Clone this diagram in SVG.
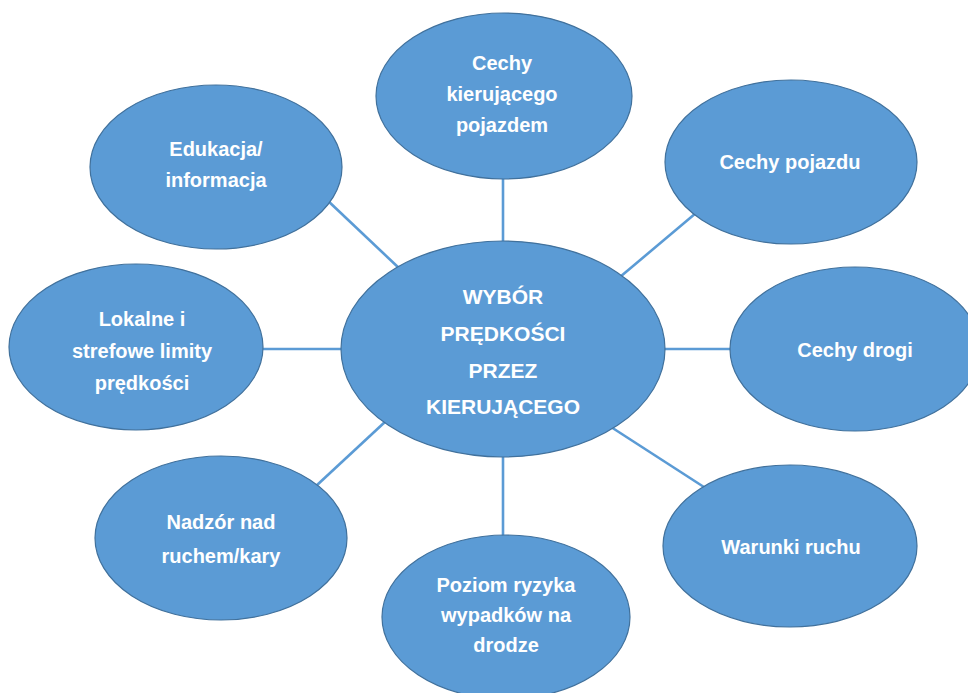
<svg xmlns="http://www.w3.org/2000/svg" width="968" height="693" viewBox="0 0 968 693">
<style>
.n{fill:#5B9BD5;stroke:#41719C;stroke-width:1.2}
.t{font-family:"Liberation Sans",Arial,sans-serif;font-weight:bold;fill:#FFFFFF;text-anchor:middle;font-size:20px}
.c{font-size:21px}
#edges line{stroke:#5B9BD5;stroke-width:2.6}
</style>
<rect width="968" height="693" fill="#FFFFFF"/>
<g id="edges">
<line x1="503" y1="176" x2="503" y2="243"/>
<line x1="620" y1="277" x2="696" y2="213"/>
<line x1="662" y1="349" x2="732" y2="349"/>
<line x1="611" y1="427" x2="707" y2="489"/>
<line x1="503" y1="454" x2="503" y2="537"/>
<line x1="316" y1="486" x2="386" y2="421"/>
<line x1="263" y1="349" x2="343" y2="349"/>
<line x1="326" y1="199" x2="400" y2="269"/>
</g>
<g id="center">
<ellipse class="n" cx="503" cy="349" rx="162" ry="108"/>
<text class="t c" x="503" y="304">WYBÓR</text>
<text class="t c" x="503" y="341">PRĘDKOŚCI</text>
<text class="t c" x="503" y="378">PRZEZ</text>
<text class="t c" x="503" y="414">KIERUJĄCEGO</text>
</g>
<g id="kierujacy">
<ellipse class="n" cx="504" cy="96" rx="128" ry="83"/>
<text class="t" x="502" y="70">Cechy</text>
<text class="t" x="502" y="101">kierującego</text>
<text class="t" x="502" y="132">pojazdem</text>
</g>
<g id="pojazd">
<ellipse class="n" cx="791" cy="162" rx="126" ry="82"/>
<text class="t" x="790" y="169">Cechy pojazdu</text>
</g>
<g id="droga">
<ellipse class="n" cx="855" cy="349" rx="125" ry="82"/>
<text class="t" x="855" y="357">Cechy drogi</text>
</g>
<g id="warunki">
<ellipse class="n" cx="790" cy="546" rx="127" ry="81"/>
<text class="t" x="791" y="554">Warunki ruchu</text>
</g>
<g id="poziom">
<ellipse class="n" cx="506" cy="617" rx="124" ry="82"/>
<text class="t" x="506" y="592">Poziom ryzyka</text>
<text class="t" x="506" y="622">wypadków na</text>
<text class="t" x="506" y="652">drodze</text>
</g>
<g id="nadzor">
<ellipse class="n" cx="221" cy="538" rx="126" ry="82"/>
<text class="t" x="221" y="529">Nadzór nad</text>
<text class="t" x="221" y="563">ruchem/kary</text>
</g>
<g id="lokalne">
<ellipse class="n" cx="136" cy="347" rx="127" ry="83"/>
<text class="t" x="142" y="326">Lokalne i</text>
<text class="t" x="142" y="358">strefowe limity</text>
<text class="t" x="142" y="390">prędkości</text>
</g>
<g id="edukacja">
<ellipse class="n" cx="216" cy="167" rx="126" ry="82"/>
<text class="t" x="216" y="156">Edukacja/</text>
<text class="t" x="216" y="187">informacja</text>
</g>
</svg>
